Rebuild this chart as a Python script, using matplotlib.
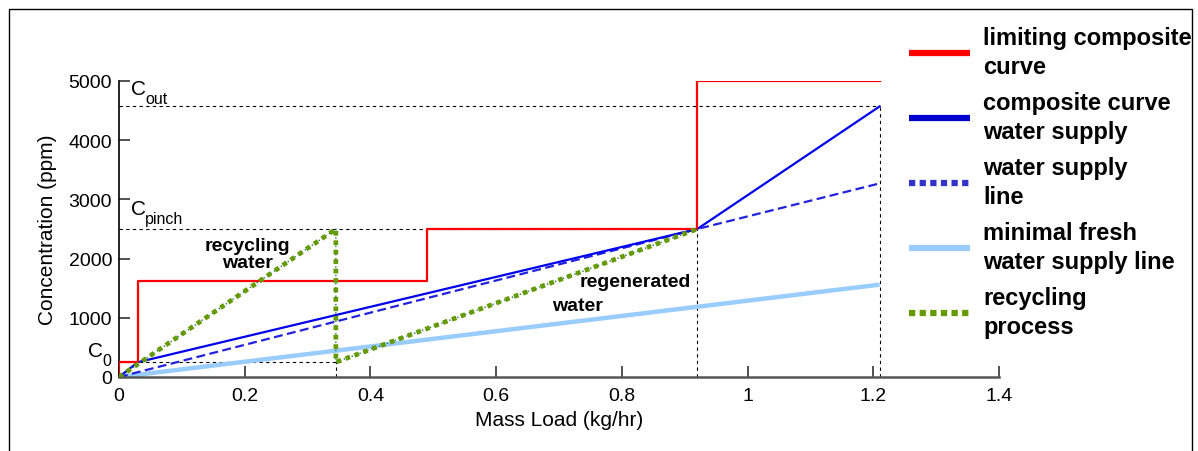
import matplotlib
matplotlib.use("Agg")
import matplotlib.pyplot as plt
from matplotlib.lines import Line2D
from matplotlib.patches import Rectangle

plt.rcParams['font.family'] = ['Liberation Sans', 'DejaVu Sans']

# ---- data ----
C0, C_pinch, C_out = 250, 2500, 4570
x_regen, x_pinch, x_end = 0.345, 0.92, 1.21

limiting_x = [0, 0, 0.03, 0.03, 0.49, 0.49, 0.92, 0.92, 1.21]
limiting_y = [0, 250, 250, 1620, 1620, 2500, 2500, 5000, 5000]

composite_x = [0, 0.03, 0.92, 1.21]
composite_y = [0, 250, 2500, 4570]

supply_x = [0, 0.92, 1.21]
supply_y = [0, 2500, 3270]

fresh_x = [0, 1.21]
fresh_y = [0, 1560]

recycle_x = [0, 0.345, 0.345, 0.92]
recycle_y = [0, 2500, 250, 2500]

x_ticks = [0, 0.2, 0.4, 0.6, 0.8, 1, 1.2, 1.4]
x_tick_labels = ['0', '0.2', '0.4', '0.6', '0.8', '1', '1.2', '1.4']
y_ticks = [0, 1000, 2000, 3000, 4000, 5000]

legend_labels = ['limiting composite\ncurve',
                 'composite curve\nwater supply',
                 'water supply\nline',
                 'minimal fresh\nwater supply line',
                 'recycling\nprocess']

# ---- colours ----
RED = '#ff0000'
BLUE = '#0000ee'
DBLUE = '#2222dd'
LBLUE = '#99ccff'
GREEN = '#669900'
TEAL = '#117755'

W, H = 1198, 452
fig = plt.figure(figsize=(W / 100, H / 100), dpi=100)
ax = fig.add_axes([119 / W, 1 - 378 / H, (999 - 119) / W, (378 - 82) / H])

# reference dotted lines
ref = dict(color='black', lw=0.8, linestyle=(0, (3, 3)), zorder=1)
ax.plot([0, x_end], [C_out, C_out], **ref)
ax.plot([0, x_pinch], [C_pinch, C_pinch], **ref)
ax.plot([0, x_regen], [C0, C0], **ref)
ax.plot([x_regen, x_regen], [0, C0], **ref)
ax.plot([x_pinch, x_pinch], [0, C_pinch], **ref)
ax.plot([x_end, x_end], [0, C_out], **ref)

ax.plot(fresh_x, fresh_y, color=LBLUE, lw=3.2, solid_capstyle='butt', zorder=2)
ax.plot(supply_x, supply_y, color=DBLUE, lw=1.6, linestyle=(0, (4, 2)), zorder=3)
ax.plot(composite_x, composite_y, color=BLUE, lw=1.6, zorder=4)
ax.plot(limiting_x, limiting_y, color=RED, lw=1.6, zorder=5)
ax.plot(recycle_x, recycle_y, color=TEAL, lw=1.0, linestyle=(0, (1, 2)), zorder=6)
ax.plot(recycle_x, recycle_y, color=GREEN, lw=3.4, linestyle=(0, (1, 1)),
        dash_capstyle='butt', zorder=7)

ax.set_xlim(0, 1.4)
ax.set_ylim(0, 5000)
ax.set_xticks(x_ticks)
ax.set_xticklabels(x_tick_labels)
ax.set_yticks(y_ticks)
ax.tick_params(direction='in', length=8, width=1.2, labelsize=14, color='#333333')
ax.tick_params(axis='y', pad=5)
ax.tick_params(axis='x', pad=7)
for s in ['top', 'right']:
    ax.spines[s].set_visible(False)
ax.spines['left'].set_linewidth(1.2)
ax.spines['bottom'].set_linewidth(1.8)
ax.spines['bottom'].set_color('#555555')
ax.patch.set_alpha(0)

ax.set_xlabel('Mass Load (kg/hr)', fontsize=15)
ax.set_ylabel('Concentration (ppm)', fontsize=15)
ax.xaxis.set_label_coords(0.5, -0.11)
ax.yaxis.set_label_coords(-0.071, 0.5)


# C labels with subscripts
def c_label(x, y, sub):
    ax.text(x, y, 'C', fontsize=15, ha='left', va='baseline', clip_on=False)
    ax.annotate(sub, xy=(x, y), xytext=(10.3, -6.5), textcoords='offset points',
                fontsize=11.5, ha='left', va='baseline', annotation_clip=False)


c_label(0.019, 4780, 'out')
c_label(0.019, 2750, 'pinch')
c_label(-0.05, 355, '0')

ax.text(0.205, 2080, 'recycling\nwater', fontsize=14, fontweight='bold',
        ha='center', va='center', multialignment='center', linespacing=0.95)
ax.text(0.7335, 1620, 'regenerated', fontsize=14, fontweight='bold', ha='left', va='center')
ax.text(0.689, 1210, 'water', fontsize=14, fontweight='bold', ha='left', va='center')

# legend
handles = [
    Line2D([], [], color=RED, lw=4.5),
    Line2D([], [], color='#0000cc', lw=4.5),
    Line2D([], [], color='#3333cc', lw=4.5, linestyle=(0, (1, 0.7))),
    Line2D([], [], color=LBLUE, lw=4.5),
    Line2D([], [], color=GREEN, lw=4.5, linestyle=(0, (1, 0.7))),
]
for h in handles:
    h.set_dash_capstyle('butt')
    h.set_solid_capstyle('butt')
leg = fig.legend(handles, legend_labels, loc='upper left',
                 bbox_to_anchor=(909 / W, 1 - 27 / H), frameon=False,
                 prop={'size': 17, 'weight': 'bold'}, handlelength=2.6,
                 handletextpad=0.55, labelspacing=0.56, borderpad=0, borderaxespad=0)
for t in leg.get_texts():
    t.set_linespacing(1.32)

# figure frame
fig.patches.append(Rectangle((8.5 / W, -0.1), (1192 - 8.5) / W, 1.1 - 10 / H,
                             transform=fig.transFigure, fill=False,
                             edgecolor='black', lw=1.0))

fig.savefig('out.png', dpi=100)
